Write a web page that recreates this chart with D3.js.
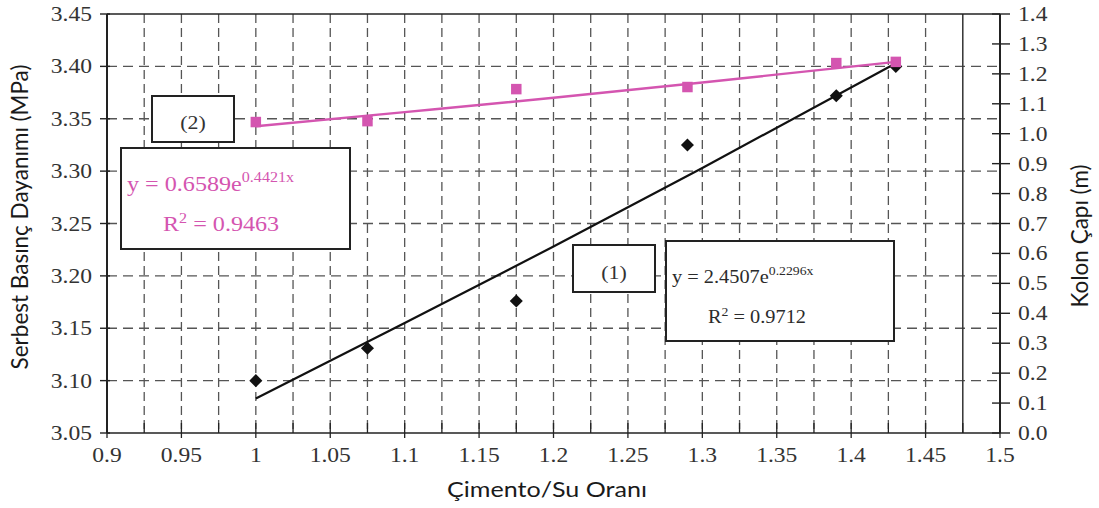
<!DOCTYPE html>
<html>
<head>
<meta charset="utf-8">
<script src="https://cdn.jsdelivr.net/npm/d3@7"></script>
<style>
  html, body { margin: 0; padding: 0; background: #fff; }
  svg { display: block; }
</style>
</head>
<body>
<svg id="chart" width="1099" height="508"></svg>
<script>
// ---- data ----
const xValues   = [1.0, 1.075, 1.175, 1.29, 1.39, 1.43];
const strength  = [3.100, 3.131, 3.176, 3.325, 3.372, 3.400];   // left axis (MPa), series (1)
const diameter  = [1.039, 1.042, 1.149, 1.156, 1.236, 1.240];   // right axis (m), series (2)
const trendX    = [1.0, 1.1, 1.2, 1.3, 1.43];
const trend1    = [3.083, 3.155, 3.228, 3.303, 3.403];          // series (1) trend, left axis
const trend2    = [1.025, 1.072, 1.120, 1.171, 1.240];          // series (2) trend, right axis
const xTickLabels = ["0.9","0.95","1","1.05","1.1","1.15","1.2","1.25","1.3","1.35","1.4","1.45","1.5"];
const yLeftTicks  = ["3.05","3.10","3.15","3.20","3.25","3.30","3.35","3.40","3.45"];
const yRightTicks = ["0.0","0.1","0.2","0.3","0.4","0.5","0.6","0.7","0.8","0.9","1.0","1.1","1.2","1.3","1.4"];
const xGrid = [0.925,0.95,0.975,1.0,1.025,1.05,1.075,1.1,1.125,1.15,1.175,1.2,1.225,1.25,1.275,1.3,1.325,1.35,1.375,1.4,1.425,1.45];
const xSolidLine = 1.475;
const yGrid = [3.10,3.15,3.20,3.25,3.30,3.35,3.40];

const svg = d3.select("#chart");
const L = 107, R = 1000, T = 14, B = 433;
const x  = d3.scaleLinear().domain([0.9, 1.5]).range([L, R]);
const yL = d3.scaleLinear().domain([3.05, 3.45]).range([B, T]);
const yR = d3.scaleLinear().domain([0, 1.4]).range([B, T]);

const pink = "#d455b0";
const dark = "#222";
const tickColor = "#333";
const SX = 1.15; // horizontal stretch of the source image's text
const serif = "'Liberation Serif','Times New Roman',serif";
const sans = "Lato, 'Open Sans', 'Liberation Sans', sans-serif";

function stretchedText(g, tx, ty, str, opts) {
  const t = g.append("text")
    .attr("transform", `translate(${tx},${ty}) scale(${opts.sx || SX},1)`)
    .attr("text-anchor", opts.anchor || "start")
    .attr("font-family", opts.family || serif)
    .attr("font-size", opts.size || 20)
    .attr("fill", opts.fill || tickColor)
    .text(str);
  return t;
}

// grid
const grid = svg.append("g");
grid.selectAll("line.v").data(xGrid).join("line")
  .attr("x1", d => x(d)).attr("x2", d => x(d)).attr("y1", T).attr("y2", B)
  .attr("stroke", "#555").attr("stroke-width", 1.3).attr("stroke-dasharray", "9,5");
grid.selectAll("line.h").data(yGrid).join("line")
  .attr("x1", L).attr("x2", R).attr("y1", d => yL(d)).attr("y2", d => yL(d))
  .attr("stroke", "#555").attr("stroke-width", 1.3).attr("stroke-dasharray", "10,6");
grid.append("line")
  .attr("x1", x(xSolidLine)).attr("x2", x(xSolidLine)).attr("y1", T).attr("y2", B)
  .attr("stroke", "#333").attr("stroke-width", 1.5);

// frame / axes
const ax = svg.append("g").attr("stroke", dark);
ax.append("line").attr("x1", L).attr("x2", L).attr("y1", T).attr("y2", B).attr("stroke-width", 2);
ax.append("line").attr("x1", R).attr("x2", R).attr("y1", T).attr("y2", B).attr("stroke-width", 2);
ax.append("line").attr("x1", L).attr("x2", R).attr("y1", B).attr("y2", B).attr("stroke-width", 1.6);
ax.append("line").attr("x1", L).attr("x2", R).attr("y1", T).attr("y2", T).attr("stroke-width", 1.6);

// bottom ticks
ax.selectAll("line.bt").data(xGrid.concat([0.9, 1.475, 1.5])).join("line")
  .attr("x1", d => x(d)).attr("x2", d => x(d)).attr("y1", B - 10).attr("y2", B)
  .attr("stroke-width", 1.3);
ax.selectAll("line.bt2").data(xTickLabels).join("line")
  .attr("x1", d => x(+d)).attr("x2", d => x(+d)).attr("y1", B).attr("y2", B + 5)
  .attr("stroke-width", 1.3);
// left ticks
ax.selectAll("line.lt").data(yLeftTicks).join("line")
  .attr("x1", L - 7).attr("x2", L + 3).attr("y1", d => yL(+d)).attr("y2", d => yL(+d))
  .attr("stroke-width", 1.4);
// right ticks
ax.selectAll("line.rt").data(yRightTicks).join("line")
  .attr("x1", R - 8).attr("x2", R + 10).attr("y1", d => yR(+d)).attr("y2", d => yR(+d))
  .attr("stroke-width", 1.4);

// tick labels
const labels = svg.append("g");
xTickLabels.forEach(s => stretchedText(labels, x(+s), 462, s, {anchor: "middle", size: 20.5}));
yLeftTicks.forEach(s => stretchedText(labels, 92, yL(+s) + 7, s, {anchor: "end", size: 20.5}));
yRightTicks.forEach(s => stretchedText(labels, 1018, yR(+s) + 7, s, {anchor: "start", size: 20.5}));

// axis titles
svg.append("text")
  .attr("transform", `translate(28,217) rotate(-90)`)
  .attr("text-anchor", "middle").attr("font-family", sans).attr("font-size", 22.5)
  .attr("fill", "#1a1a1a").text("Serbest Basınç Dayanımı (MPa)");
svg.append("text")
  .attr("transform", `translate(1088,236) rotate(-90)`)
  .attr("text-anchor", "middle").attr("font-family", sans).attr("font-size", 22.5)
  .attr("fill", "#1a1a1a").text("Kolon Çapı (m)");
svg.append("text")
  .attr("transform", `translate(547,497) scale(1.14,1)`)
  .attr("text-anchor", "middle").attr("font-family", sans).attr("font-size", 22)
  .attr("fill", "#1a1a1a").text("Çimento/Su Oranı");

// trend lines
const line1 = d3.line().x((d, i) => x(trendX[i])).y(d => yL(d)).curve(d3.curveMonotoneX);
const line2 = d3.line().x((d, i) => x(trendX[i])).y(d => yR(d)).curve(d3.curveMonotoneX);
svg.append("path").attr("d", line1(trend1)).attr("fill", "none")
  .attr("stroke", "#111").attr("stroke-width", 2.2);
svg.append("path").attr("d", line2(trend2)).attr("fill", "none")
  .attr("stroke", pink).attr("stroke-width", 2.4);

// markers
svg.selectAll("path.dia").data(strength).join("path")
  .attr("d", d3.symbol(d3.symbolSquare, 85)())
  .attr("transform", (d, i) => `translate(${x(xValues[i])},${yL(d)}) rotate(45)`)
  .attr("fill", "#111");
svg.selectAll("path.sq").data(diameter).join("path")
  .attr("d", d3.symbol(d3.symbolSquare, 110)())
  .attr("transform", (d, i) => `translate(${x(xValues[i])},${yR(d)})`)
  .attr("fill", pink);

// annotation boxes
function box(x0, y0, x1, y1) {
  svg.append("rect").attr("x", x0).attr("y", y0).attr("width", x1 - x0).attr("height", y1 - y0)
    .attr("fill", "#fff").attr("stroke", dark).attr("stroke-width", 2);
}
box(152, 96, 234, 142);
stretchedText(svg, 193, 129, "(2)", {anchor: "middle", size: 19, fill: "#333"});
box(121, 148, 350, 249);
{
  const t = stretchedText(svg, 127, 191, "", {size: 21, fill: pink});
  t.append("tspan").text("y = 0.6589e");
  t.append("tspan").attr("font-size", 14).attr("dy", -9).text("0.4421x");
  const r = stretchedText(svg, 163, 231, "", {size: 21, fill: pink});
  r.append("tspan").text("R");
  r.append("tspan").attr("font-size", 14).attr("dy", -8).text("2");
  r.append("tspan").attr("dy", 8).text(" = 0.9463");
}
box(573, 245, 655, 292);
stretchedText(svg, 614, 279, "(1)", {anchor: "middle", size: 19, fill: "#333"});
box(666, 241, 894, 341);
{
  const t = stretchedText(svg, 672, 283, "", {size: 18.5, fill: "#2b2b2b", sx: 1.1});
  t.append("tspan").text("y = 2.4507e");
  t.append("tspan").attr("font-size", 12.5).attr("dy", -8).text("0.2296x");
  const r = stretchedText(svg, 708, 323, "", {size: 18.5, fill: "#2b2b2b", sx: 1.1});
  r.append("tspan").text("R");
  r.append("tspan").attr("font-size", 12.5).attr("dy", -7).text("2");
  r.append("tspan").attr("dy", 7).text(" = 0.9712");
}
</script>
</body>
</html>
